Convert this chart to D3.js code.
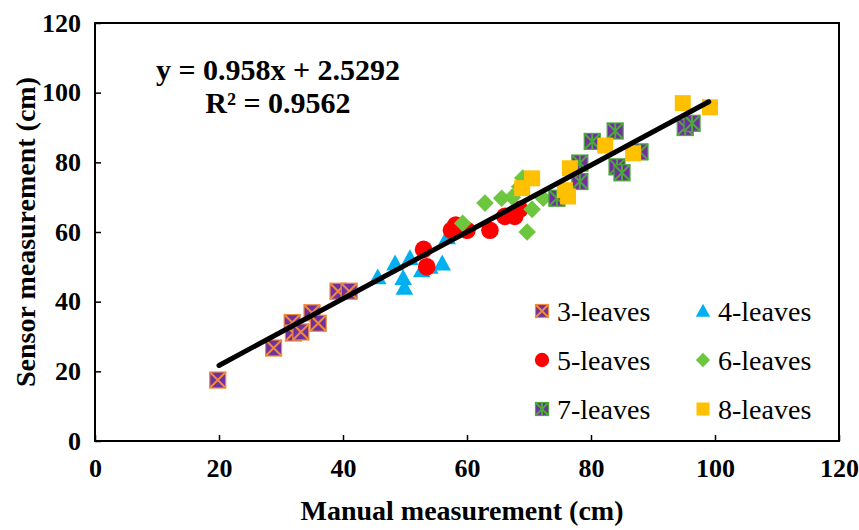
<!DOCTYPE html>
<html>
<head>
<meta charset="utf-8">
<script src="https://cdn.jsdelivr.net/npm/d3@7"></script>
<style>
    body { margin: 0; background: #fff; }
    svg { display: block; font-family: 'Liberation Serif', 'Times New Roman', serif; }
</style>
</head>
<body>
<div id="chart"></div>
<script>
// data: [manual, sensor] in cm
var leaves3 = [[19.8,17.5],[28.8,26.7],[31.8,34],[32,31],[33.2,31.3],[35,36.8],[36,33.8],[39.2,43],[41,43]];
var leaves4 = [[45.6,47],[48.4,51],[49.7,46.8],[49.9,44],[50.8,52.5],[52.7,49],[54,50],[56,51],[56.8,58.5]];
var leaves5 = [[53,55],[53.5,50],[57.5,60.5],[58.2,62],[60,60.5],[63.7,60.5],[66.1,64.5],[67.7,64.5],[68.5,66.5]];
var leaves6 = [[59.3,62.5],[62.9,68.3],[65.6,69.7],[67.3,70],[69.7,60],[70.5,66.5],[72.3,69.7],[69,75.5],[68.5,73]];
var leaves7 = [[74.5,69.7],[78.2,74.5],[78.2,79.8],[80.2,86],[83.9,89],[84.2,78.7],[85,77],[87.9,83],[95.2,90],[96.3,91.2]];
var leaves8 = [[68.9,72.6],[70.5,75.4],[75.8,72],[76.3,70.2],[76.6,78.3],[82.3,84.8],[86.8,82.6],[94.8,97],[99.2,95.8]];

var seriesNames = ["3-leaves", "4-leaves", "5-leaves", "6-leaves", "7-leaves", "8-leaves"];
var seriesData = [leaves3, leaves4, leaves5, leaves6, leaves7, leaves8];

var xTicks = [0, 20, 40, 60, 80, 100, 120];
var yTicks = [0, 20, 40, 60, 80, 100, 120];

// trend line y = 0.958x + 2.5292 drawn between these x values
var fitSlope = 0.958, fitIntercept = 2.5292;
var fitRange = [20, 99];
var fitLabels = ["y = 0.958x + 2.5292", "R\u00b2 = 0.9562"];

// layout
var width = 859, height = 530;
var margins = {left: 95, right: 20, top: 23, bottom: 89};
var plotW = width - margins.left - margins.right,
    plotH = height - margins.top - margins.bottom;
var serif = "'Liberation Serif', 'Times New Roman', serif";

var svg = d3.select("#chart").append("svg")
    .attr("width", width)
    .attr("height", height);
var g = svg.append("g")
    .attr("transform", "translate(" + margins.left + "," + margins.top + ")");

var x = d3.scaleLinear().domain([0, 120]).range([0, plotW]);
var y = d3.scaleLinear().domain([0, 120]).range([plotH, 0]);

// axes, ticks point inward
var xAxis = d3.axisBottom(x).tickValues(xTicks).tickSizeInner(-6).tickSizeOuter(0).tickPadding(18);
var yAxis = d3.axisLeft(y).tickValues(yTicks).tickSizeInner(-6).tickSizeOuter(0).tickPadding(14);

function styleAxis(sel) {
    sel.select(".domain").remove();
    sel.attr("font-family", null).attr("font-size", null);
    sel.selectAll(".tick line").attr("stroke", "#000").attr("stroke-width", 1.5);
    sel.selectAll(".tick text")
        .attr("fill", "#000")
        .style("font-family", serif)
        .style("font-size", "26px")
        .style("font-weight", "bold");
}
g.append("g").attr("transform", "translate(0," + plotH + ")").call(xAxis).call(styleAxis);
g.append("g").call(yAxis).call(styleAxis);

// plot frame
g.append("rect")
    .attr("width", plotW)
    .attr("height", plotH)
    .attr("fill", "none")
    .attr("stroke", "#000")
    .attr("stroke-width", 2);

// axis titles
svg.append("text")
    .attr("x", margins.left + plotW / 2 - 5)
    .attr("y", 520)
    .attr("text-anchor", "middle")
    .style("font-family", serif)
    .style("font-size", "28px")
    .style("font-weight", "bold")
    .text("Manual measurement (cm)");
svg.append("text")
    .attr("transform", "translate(35," + (margins.top + plotH / 2) + ") rotate(-90)")
    .attr("text-anchor", "middle")
    .style("font-family", serif)
    .style("font-size", "28px")
    .style("font-weight", "bold")
    .text("Sensor measurement (cm)");

// marker painters, each draws centered at 0,0 with size s
var markers = [
    function(sel, s) { // purple square with orange cross
        var h = s / 2;
        sel.append("rect").attr("x", -h).attr("y", -h).attr("width", s).attr("height", s)
            .attr("fill", "#7030A0").attr("stroke", "#F08A3C").attr("stroke-width", 1.2);
        sel.append("path").attr("d", "M" + (-h) + "," + (-h) + "L" + h + "," + h + "M" + h + "," + (-h) + "L" + (-h) + "," + h)
            .attr("stroke", "#F08A3C").attr("stroke-width", 2);
    },
    function(sel, s) { // cyan triangle
        var h = s * 0.55;
        sel.append("path").attr("d", "M0," + (-h) + "L" + h + "," + (h * 0.8) + "L" + (-h) + "," + (h * 0.8) + "Z")
            .attr("fill", "#00B0F0");
    },
    function(sel, s) { // red circle
        sel.append("circle").attr("r", s * 0.55).attr("fill", "#FF0000");
    },
    function(sel, s) { // green diamond
        var h = s * 0.55;
        sel.append("path").attr("d", "M0," + (-h) + "L" + h + ",0L0," + h + "L" + (-h) + ",0Z")
            .attr("fill", "#6DC73E");
    },
    function(sel, s) { // purple square with green asterisk
        var h = s / 2;
        sel.append("rect").attr("x", -h).attr("y", -h).attr("width", s).attr("height", s)
            .attr("fill", "#7030A0").attr("stroke", "#4CA83A").attr("stroke-width", 1.2);
        sel.append("path").attr("d", "M" + (-h) + "," + (-h) + "L" + h + "," + h + "M" + h + "," + (-h) + "L" + (-h) + "," + h + "M0," + (-h) + "L0," + h)
            .attr("stroke", "#4CA83A").attr("stroke-width", 2);
    },
    function(sel, s) { // yellow square
        var h = s / 2;
        sel.append("rect").attr("x", -h).attr("y", -h).attr("width", s).attr("height", s)
            .attr("fill", "#FFC000");
    }
];

// points
seriesData.forEach(function(data, i) {
    g.append("g").attr("class", "series")
        .selectAll("g").data(data).enter().append("g")
        .attr("transform", function(d) { return "translate(" + x(d[0]) + "," + y(d[1]) + ")"; })
        .each(function() { markers[i](d3.select(this), 16); });
});

// trend line
var line = d3.line()
    .x(function(d) { return x(d); })
    .y(function(d) { return y(fitSlope * d + fitIntercept); });
g.append("path")
    .datum(fitRange)
    .attr("d", line)
    .attr("fill", "none")
    .attr("stroke", "#000")
    .attr("stroke-width", 5)
    .attr("stroke-linecap", "round");

// equation
svg.append("g").selectAll("text").data(fitLabels).enter().append("text")
    .attr("x", 278)
    .attr("y", function(d, i) { return 80 + i * 33; })
    .attr("text-anchor", "middle")
    .style("font-family", serif)
    .style("font-size", "30px")
    .style("font-weight", "bold")
    .text(function(d) { return d; });

// legend, two columns three rows
var legend = svg.append("g");
seriesNames.forEach(function(name, i) {
    var col = i % 2, row = Math.floor(i / 2);
    var item = legend.append("g")
        .attr("transform", "translate(" + (542 + col * 161) + "," + (311 + row * 49) + ")");
    markers[i](item, 13);
    item.append("text")
        .attr("x", 15)
        .attr("y", 10)
        .style("font-family", serif)
        .style("font-size", "28px")
        .text(name);
});
</script>
</body>
</html>
